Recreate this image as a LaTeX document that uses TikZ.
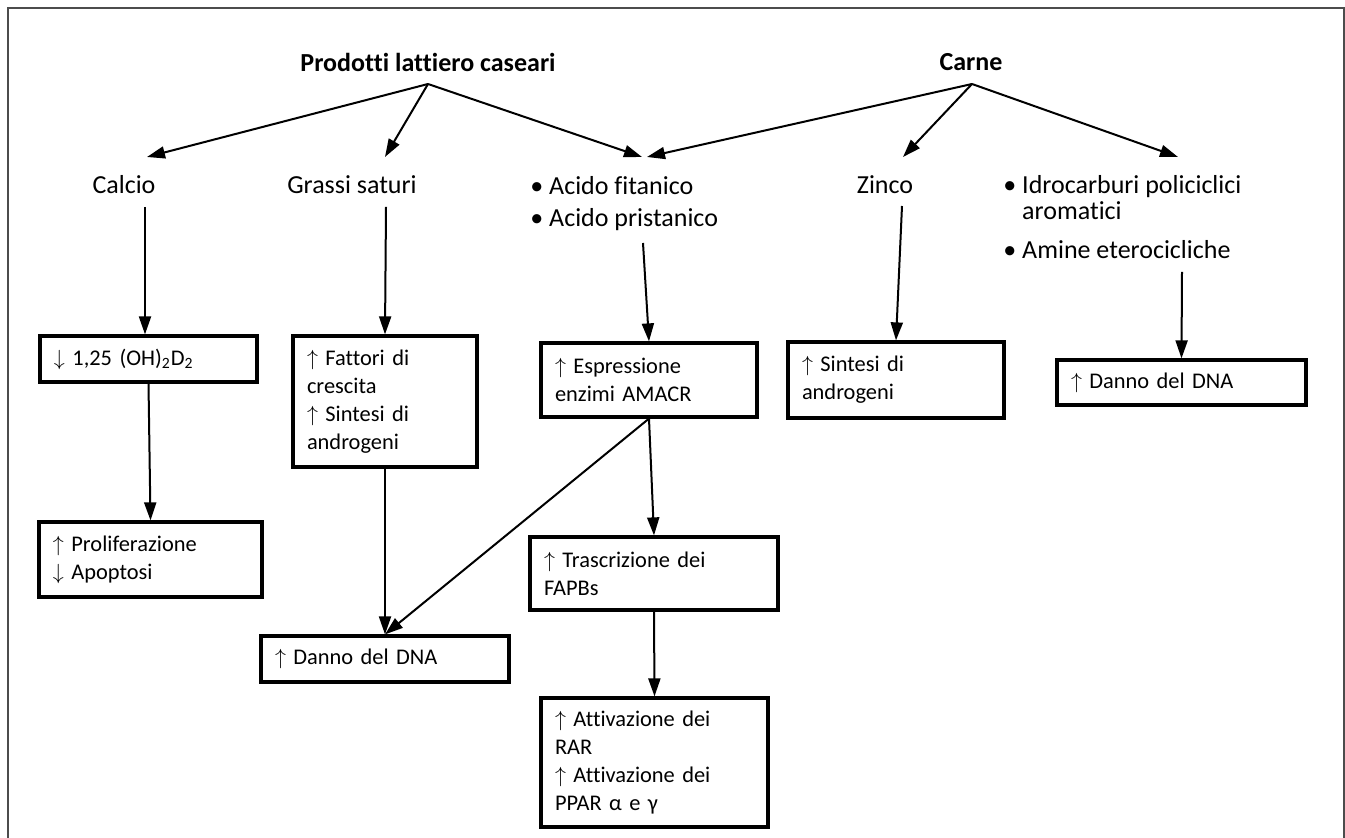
\documentclass[tikz,border=0pt]{standalone}
\usepackage{fontspec}
\setmainfont{Carlito}[Ligatures={TeX,NoCommon}]
\usepackage{tikz}
\usetikzlibrary{arrows.meta,positioning,calc}

\newcommand{\incr}{$\uparrow$ }
\newcommand{\decr}{$\downarrow$ }

\begin{document}
\begin{tikzpicture}[
      x=0.5pt, y=-0.5pt,
      head/.style={font=\fontsize{13}{16}\selectfont\bfseries, inner sep=0pt},
      item/.style={font=\fontsize{13}{16}\selectfont, align=left, inner sep=0pt},
      box/.style={draw, line width=1.6pt, inner xsep=7pt, inner ysep=2pt,
                  align=left, font=\fontsize{11.2}{14}\selectfont},
      arr/.style={-{Triangle[length=9pt,width=6pt]}, line width=1pt},
      frame/.style={draw=black!70, line width=1pt},
    ]
    \useasboundingbox (0,0) rectangle (1345,838);
    \draw[frame] (7.5,838) -- (7.5,8.5) -- (1343.5,8.5) -- (1343.5,838);

    % Sources
    \node[head] (dairy) at (428,62) {Prodotti lattiero caseari};
    \node[head] (meat)  at (971,62) {Carne};
    \coordinate (dairy-out) at (428,84);
    \coordinate (meat-out)  at (972,84);

    % Components
    \node[item] (calcio) at (124,185) {Calcio};
    \node[item] (grassi) at (352,185) {Grassi saturi};
    \node[item, anchor=west] (acidi) at (530,203.6)
      {\textbullet\ Acido fitanico\\\textbullet\ Acido pristanico};
    \node[item] (zinco) at (885,185) {Zinco};
    \node[item, anchor=west, font=\fontsize{13}{13}\selectfont] (ipa) at (1003,216.8)
      {\textbullet\ Idrocarburi policiclici\\\hphantom{\textbullet\ }aromatici\\[6.5pt]%
       \textbullet\ Amine eterocicliche};

    \coordinate (calcio-in)  at (147,157);
    \coordinate (grassi-in)  at (385,157);
    \coordinate (acidi-inl)  at (642,157);
    \coordinate (acidi-inr)  at (647,157);
    \coordinate (zinco-in)   at (903,157);
    \coordinate (ipa-in)     at (1178,157);

    \coordinate (calcio-out) at (145,207);
    \coordinate (grassi-out) at (386,207);
    \coordinate (acidi-out)  at (643,243);
    \coordinate (zinco-out)  at (902,206);
    \coordinate (ipa-out)    at (1182,272);

    % Effects
    \node[box, text width=94.5pt, minimum height=23pt] (vitd) at (148.5,359)
      {\decr 1,25 (OH)\textsubscript{2}D\textsubscript{2}};
    \node[box, text width=97.5pt, minimum height=37.5pt] (prolif) at (150.5,559.5)
      {\incr Proliferazione\\\decr Apoptosi};
    \node[box, text width=78pt, minimum height=65.5pt] (fattori) at (385,401.5)
      {\incr Fattori di\\crescita\\\incr Sintesi di\\androgeni};
    \node[box, text width=110pt, minimum height=23pt] (dannoa) at (385,659)
      {\incr Danno del DNA};
    \node[box, text width=94pt, minimum height=37pt] (amacr) at (649,380)
      {\incr Espressione\\enzimi AMACR};
    \node[box, text width=110pt, minimum height=36.5pt] (fapb) at (654,573.5)
      {\incr Trascrizione dei\\FAPBs};
    \node[box, text width=99.5pt, minimum height=64.5pt] (attiv) at (654.5,762.5)
      {\incr Attivazione dei\\RAR\\\incr Attivazione dei\\PPAR α e γ};
    \node[box, text width=94pt, minimum height=38pt] (sintesi) at (896,380)
      {\incr Sintesi di\\androgeni};
    \node[box, text width=110.5pt, minimum height=22.5pt] (dannob) at (1181.5,382.5)
      {\incr Danno del DNA};

    % Arrows
    \draw[arr] (dairy-out) -- (calcio-in);
    \draw[arr] (dairy-out) -- (grassi-in);
    \draw[arr] (dairy-out) -- (acidi-inl);
    \draw[arr] (meat-out) -- (acidi-inr);
    \draw[arr] (meat-out) -- (zinco-in);
    \draw[arr] (meat-out) -- (ipa-in);

    \draw[arr] (calcio-out) -- (calcio-out |- vitd.north);
    \draw[arr] (grassi-out) -- (fattori.north);
    \draw[arr] (acidi-out) -- (amacr.north);
    \draw[arr] (zinco-out) -- (sintesi.north);
    \draw[arr] (ipa-out) -- (dannob.north);

    \draw[arr] (vitd.south) -- (prolif.north);
    \draw[arr] (fattori.south) -- (dannoa.north);
    \draw[arr] (amacr.south) -- (dannoa.north);
    \draw[arr] (amacr.south) -- (fapb.north);
    \draw[arr] (fapb.south) -- (attiv.north);
  \end{tikzpicture}
\end{document}
